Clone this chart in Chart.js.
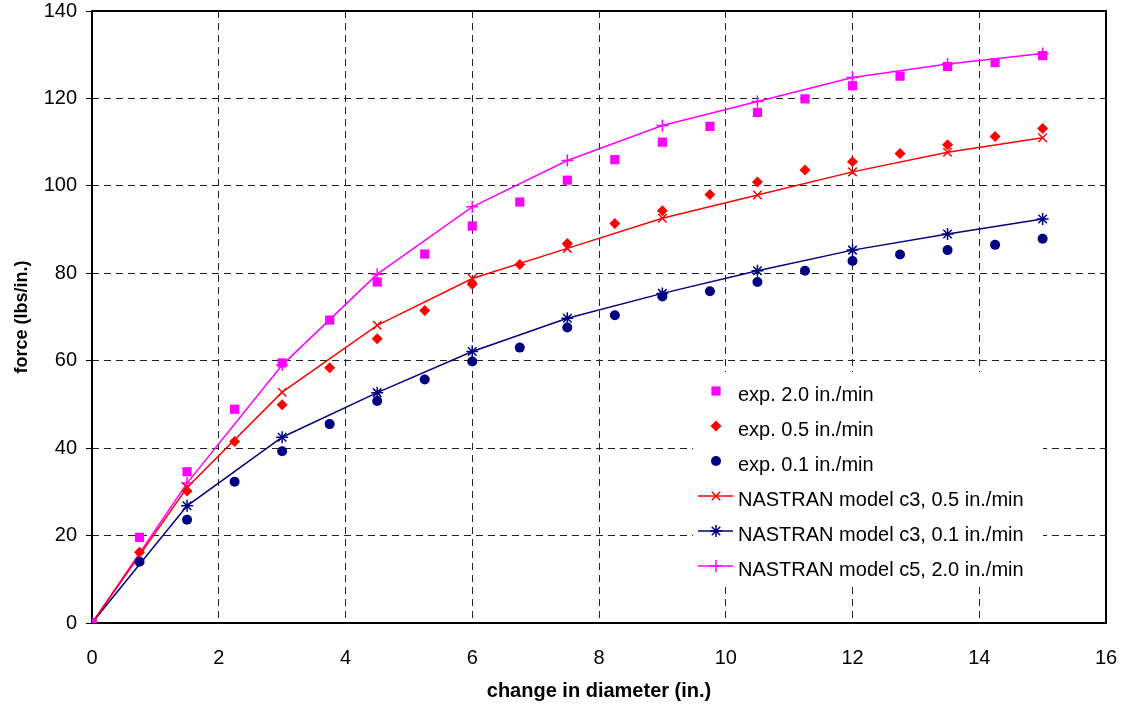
<!DOCTYPE html>
<html>
<head>
<meta charset="utf-8">
<script src="https://cdn.jsdelivr.net/npm/chart.js"></script>
<style>
  html, body { margin: 0; padding: 0; background: #fff; }
  #wrap { width: 1124px; height: 712px; }
</style>
</head>
<body>
<div id="wrap"><canvas id="forceChart"></canvas></div>
<script>
// change in diameter (in.) for the measured points and the model points
const xExp = [0, 0.75, 1.5, 2.25, 3, 3.75, 4.5, 5.25, 6, 6.75, 7.5, 8.25, 9, 9.75, 10.5, 11.25, 12, 12.75, 13.5, 14.25, 15];
const xModel = [0, 1.5, 3, 4.5, 6, 7.5, 9, 10.5, 12, 13.5, 15];

// force (lbs/in.)
const exp20 = [0, 19.6, 34.6, 48.9, 59.5, 69.3, 78.0, 84.4, 90.8, 96.3, 101.3, 106.0, 110.0, 113.6, 116.8, 119.9, 122.9, 125.1, 127.3, 128.2, 129.8];
const exp05 = [0, 16.2, 30.2, 41.5, 49.9, 58.4, 65.0, 71.5, 77.5, 82.0, 86.8, 91.4, 94.3, 98.0, 100.9, 103.6, 105.5, 107.4, 109.4, 111.3, 113.1];
const exp01 = [0, 14.0, 23.6, 32.3, 39.3, 45.5, 50.8, 55.7, 59.8, 63.0, 67.6, 70.4, 74.7, 75.9, 78.0, 80.6, 82.8, 84.3, 85.3, 86.5, 87.9];
const nas05 = [0, 31.0, 52.8, 68.1, 78.8, 85.7, 92.6, 97.9, 103.2, 107.7, 111.0];
const nas01 = [0, 26.8, 42.5, 52.7, 62.1, 69.7, 75.4, 80.6, 85.3, 89.0, 92.4];
const nas20 = [0, 32.0, 59.0, 79.8, 95.2, 105.8, 113.8, 119.3, 124.8, 127.9, 130.3];

const xTicks = [0, 2, 4, 6, 8, 10, 12, 14, 16];
const yTicks = [0, 20, 40, 60, 80, 100, 120, 140];

const FONT = '"Liberation Sans", Arial, sans-serif';
const MAGENTA = '#FF00FF', RED = '#FF0000', NAVY = '#000080';

const pair = (xs, ys) => xs.map((x, i) => ({ x: x, y: ys[i] }));

function marks(label, xs, ys, color, style, r) {
  return {
    label: label, data: pair(xs, ys), showLine: false,
    pointStyle: style, pointRadius: r, pointHoverRadius: r,
    backgroundColor: color, borderColor: color, pointBorderWidth: 0
  };
}
function model(label, xs, ys, color, style) {
  return {
    label: label, data: pair(xs, ys), showLine: true, tension: 0, fill: false,
    borderColor: color, backgroundColor: color, borderWidth: 1.5,
    pointStyle: style, pointRadius: 6, pointHoverRadius: 6, pointBorderWidth: 1.5
  };
}

// black frame round the plot area
const frame = {
  id: 'frame',
  beforeDatasetsDraw(chart) {
    const a = chart.chartArea, ctx = chart.ctx;
    ctx.save();
    ctx.strokeStyle = '#000';
    ctx.lineWidth = 2;
    ctx.strokeRect(a.left, a.top, a.right - a.left, a.bottom - a.top);
    ctx.restore();
  }
};

// legend box inside the plot, like the Excel one
const boxLegend = {
  id: 'boxLegend',
  afterDatasetsDraw(chart) {
    const ctx = chart.ctx;
    const left = 693, top = 372, w = 350, h = 213;
    ctx.save();
    ctx.fillStyle = '#fff';
    ctx.fillRect(left, top, w, h);
    chart.data.datasets.forEach((ds, i) => {
      const y = top + 19 + i * 35;
      const cx = left + 23;
      ctx.strokeStyle = ds.borderColor;
      ctx.fillStyle = ds.backgroundColor;
      ctx.setLineDash([]);
      if (ds.showLine) {
        ctx.lineWidth = ds.borderWidth;
        ctx.beginPath();
        ctx.moveTo(left + 5, y);
        ctx.lineTo(left + 40, y);
        ctx.stroke();
      }
      ctx.lineWidth = ds.pointBorderWidth || 1;
      Chart.helpers.drawPoint(ctx, {
        pointStyle: ds.pointStyle,
        radius: ds.pointRadius,
        borderWidth: ds.pointBorderWidth,
        rotation: 0
      }, cx, y);
      ctx.fillStyle = '#000';
      ctx.font = '20px ' + FONT;
      ctx.textBaseline = 'middle';
      ctx.textAlign = 'left';
      ctx.fillText(ds.label, left + 45, y + 4);
    });
    ctx.restore();
  }
};

new Chart(document.getElementById('forceChart'), {
  type: 'scatter',
  data: {
    datasets: [
      marks('exp. 2.0 in./min', xExp, exp20, MAGENTA, 'rect', 6.5),
      marks('exp. 0.5 in./min', xExp, exp05, RED, 'rectRot', 5.5),
      marks('exp. 0.1 in./min', xExp, exp01, NAVY, 'circle', 5),
      model('NASTRAN model c3, 0.5 in./min', xModel, nas05, RED, 'crossRot'),
      model('NASTRAN model c3, 0.1 in./min', xModel, nas01, NAVY, 'star'),
      model('NASTRAN model c5, 2.0 in./min', xModel, nas20, MAGENTA, 'cross')
    ]
  },
  options: {
    responsive: true,
    maintainAspectRatio: false,
    animation: false,
    layout: { padding: { top: 11, right: 18, left: 0, bottom: 0 } },
    plugins: {
      legend: { display: false },
      tooltip: { enabled: false }
    },
    scales: {
      x: {
        type: 'linear', min: 0, max: 16,
        afterBuildTicks: s => { s.ticks = xTicks.map(v => ({ value: v })); },
        afterFit: s => { s.height = 89; s.paddingLeft = 0; s.paddingRight = 0; },
        ticks: { color: '#000', padding: 25, font: { family: FONT, size: 20, lineHeight: 1 } },
        grid: { color: '#222', lineWidth: 1, drawTicks: false, borderDash: [7, 5] },
        border: { display: false, dash: [7, 5] },
        title: {
          display: true, text: 'change in diameter (in.)', color: '#000',
          font: { family: FONT, size: 20, weight: 'bold' },
          padding: { top: 0, bottom: 9 }
        }
      },
      y: {
        type: 'linear', min: 0, max: 140,
        afterBuildTicks: s => { s.ticks = yTicks.map(v => ({ value: v })); },
        afterFit: s => { s.width = 92; s.paddingTop = 0; s.paddingBottom = 0; },
        ticks: { color: '#000', padding: 9, font: { family: FONT, size: 20, lineHeight: 1 } },
        grid: {
          color: '#222', lineWidth: 1, drawTicks: true, tickLength: 6,
          tickColor: '#000', tickBorderDash: [], borderDash: [7, 5]
        },
        border: { display: false, dash: [7, 5] },
        title: {
          display: true, text: 'force (lbs/in.)', color: '#000',
          font: { family: FONT, size: 18, weight: 'bold' },
          padding: { top: 11, bottom: 0 }
        }
      }
    }
  },
  plugins: [frame, boxLegend]
});
</script>
</body>
</html>
